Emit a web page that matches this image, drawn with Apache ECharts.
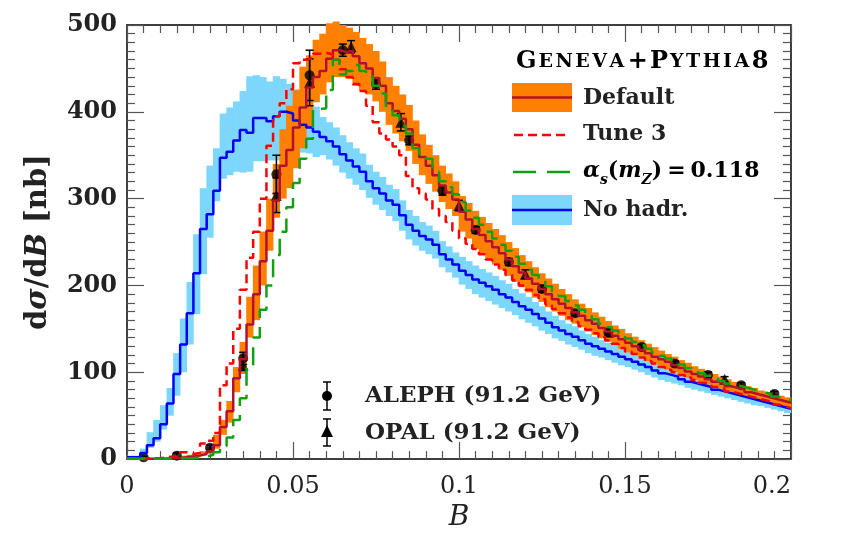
<!DOCTYPE html>
<html>
<head>
<meta charset="utf-8">
<script src="https://cdn.jsdelivr.net/npm/echarts@6/dist/echarts.min.js"></script>
<style>
html, body { margin: 0; padding: 0; background: #fff; }
#chart { width: 842px; height: 537px; }
</style>
</head>
<body>
<div id="chart"></div>
<script>
// histogram bins of width 0.002 from B = 0 to 0.2
var binWidth = 0.002;

// No hadr. (blue line + light blue band)
var noHadr = [2, 2, 7, 16, 24, 40, 64, 98, 132, 168,
    214, 265, 282, 309, 347, 354, 367, 379, 376, 393,
    393, 389, 395, 400, 398, 390, 385, 382, 377, 371,
    366, 360, 351, 344, 337, 331, 320, 312, 306, 298,
    293, 281, 270, 263, 257, 253, 247, 236, 230, 224,
    217, 212, 207, 203, 199, 195, 190, 186, 181, 176,
    172, 167, 162, 157, 152, 148, 144, 141, 137, 133,
    130, 127, 124, 121, 118, 115, 112, 109, 106, 102,
    99, 97, 95, 92, 89, 87, 85, 83, 80, 78,
    76, 74, 72, 70, 68, 66, 64, 62, 60, 58];
var noHadrLo = [0, 0, 4, 13, 20, 34, 50, 73, 100, 132,
    167, 213, 255, 297, 323, 327, 331, 330, 331, 343,
    343, 344, 344, 350, 355, 356, 353, 352, 348, 350,
    345, 338, 330, 323, 316, 310, 301, 293, 287, 280,
    274, 263, 253, 246, 240, 236, 231, 221, 215, 209,
    201, 196, 190, 186, 182, 178, 174, 170, 166, 161,
    157, 153, 148, 144, 139, 136, 132, 129, 126, 122,
    119, 117, 114, 111, 108, 106, 103, 100, 97, 94,
    91, 89, 87, 85, 82, 80, 78, 76, 74, 72,
    70, 68, 66, 64, 62, 61, 59, 57, 55, 53];
var noHadrHi = [4, 4, 12, 31, 45, 62, 82, 122, 162, 204,
    259, 312, 338, 358, 398, 405, 412, 424, 441, 442,
    440, 435, 441, 438, 432, 426, 420, 414, 406, 394,
    388, 382, 373, 365, 358, 352, 339, 331, 325, 316,
    311, 298, 287, 280, 273, 269, 263, 251, 245, 238,
    233, 228, 223, 219, 215, 211, 206, 202, 196, 191,
    187, 181, 176, 170, 165, 160, 156, 153, 148, 144,
    141, 137, 134, 131, 128, 124, 121, 118, 115, 110,
    107, 105, 103, 99, 96, 94, 92, 90, 86, 84,
    82, 80, 78, 76, 73, 71, 69, 67, 65, 63];

// Default (dark red line + orange band)
var defaultVals = [0.5, 0.5, 0.5, 0.5, 0.5, 0.5, 1, 1, 2, 3,
    4, 6, 9, 16, 37, 55, 93, 115, 155, 190,
    228, 263, 298, 338, 356, 382, 405, 428, 440, 447,
    461, 471, 469, 470, 464, 456, 450, 439, 430, 410,
    401, 392, 380, 362, 348, 338, 327, 315, 307, 299,
    285, 276, 265, 258, 251, 244, 237, 230, 222, 215,
    208, 202, 196, 190, 184, 179, 174, 169, 165, 160,
    156, 151, 147, 142, 138, 134, 130, 126, 122, 118,
    115, 112, 108, 105, 101, 98, 95, 92, 89, 87,
    84, 82, 80, 77, 75, 73, 71, 69, 67, 65];
var defaultLo = [0, 0, 0, 0, 0, 0, 0.5, 0.5, 1, 2,
    2, 4, 6, 12, 28, 42, 77, 98, 140, 160,
    200, 240, 278, 300, 312, 335, 358, 382, 411, 420,
    434, 440, 440, 438, 430, 424, 420, 412, 400, 385,
    375, 366, 355, 340, 327, 317, 308, 296, 288, 280,
    262, 254, 242, 236, 230, 224, 218, 211, 204, 198,
    192, 186, 181, 175, 170, 165, 160, 156, 152, 147,
    143, 139, 135, 131, 127, 123, 120, 116, 113, 109,
    106, 103, 100, 97, 94, 91, 88, 86, 83, 81,
    78, 76, 74, 72, 70, 68, 66, 64, 62, 60];
var defaultHi = [1, 1, 1, 1, 1, 1.5, 2, 2.5, 4, 5,
    6, 9, 14, 28, 45, 67, 106, 135, 187, 223,
    262, 300, 340, 380, 407, 425, 452, 465, 483, 490,
    502, 504, 500, 497, 492, 485, 478, 470, 458, 440,
    430, 420, 408, 390, 374, 362, 350, 338, 329, 320,
    303, 295, 286, 279, 272, 265, 258, 250, 243, 235,
    228, 221, 214, 208, 202, 196, 190, 184, 179, 174,
    169, 164, 159, 154, 150, 145, 141, 137, 133, 129,
    125, 121, 118, 114, 111, 107, 104, 101, 98, 95,
    92, 89, 87, 84, 82, 79, 77, 75, 73, 71];

// Tune 3 (red dashed)
var tune3 = [1, 1, 1, 1, 1, 2, 3, 3, 8, 6,
    7, 18, 21, 30, 85, 110, 150, 195, 232, 262,
    300, 361, 395, 410, 426, 456, 460, 462, 467, 468,
    466, 460, 449, 440, 432, 424, 407, 388, 375, 368,
    360, 350, 326, 312, 306, 299, 288, 280, 273, 263,
    254, 248, 242, 236, 230, 224, 218, 212, 206, 200,
    195, 189, 184, 178, 173, 168, 163, 158, 153, 149,
    145, 141, 137, 133, 128, 124, 121, 117, 113, 110,
    106, 103, 100, 97, 94, 91, 88, 86, 83, 81,
    78, 76, 74, 72, 70, 68, 66, 63, 61, 59];

// alpha_s(m_Z) = 0.118 (green long dashes)
var alphaS = [0.5, 0.5, 0.5, 0.5, 0.5, 0.5, 0.5, 0.5, 1, 1,
    2, 3, 5, 8, 15, 25, 45, 70, 105, 140,
    172, 200, 235, 262, 290, 318, 346, 369, 403, 404,
    425, 460, 443, 447, 454, 447, 443, 430, 421, 405,
    396, 384, 375, 358, 350, 346, 331, 320, 313, 305,
    296, 286, 278, 270, 262, 254, 247, 240, 233, 225,
    218, 212, 206, 199, 193, 188, 182, 177, 172, 166,
    161, 156, 152, 148, 143, 139, 135, 131, 127, 123,
    119, 116, 112, 109, 105, 102, 99, 96, 93, 90,
    87, 85, 83, 81, 79, 77, 75, 72, 70, 68];

// ALEPH (91.2 GeV)
var alephB = [0.005, 0.015, 0.025, 0.035, 0.045, 0.055, 0.065, 0.075, 0.085, 0.095,
    0.105, 0.115, 0.125, 0.135, 0.145, 0.155, 0.165, 0.175, 0.185, 0.195];
var alephVal = [2, 4, 13, 116, 328, 442, 471, 432, 367, 309,
    264, 227, 196, 168, 146, 129, 110, 97, 85, 75];
var alephErr = [1, 3, 3, 7, 22, 29, 7, 6, 5, 5,
    4, 4, 4, 3, 3, 3, 3, 3, 3, 3];

// OPAL (91.2 GeV)
var opalB = [0.035, 0.045, 0.055, 0.0675, 0.0825, 0.1, 0.12, 0.145, 0.18];
var opalVal = [108, 304, 434, 475, 388, 292, 213, 146, 92];
var opalErr = [6, 20, 27, 7, 10, 6, 5, 4, 3];

var xTickLabels = ['0', '0.05', '0.1', '0.15', '0.2'];

function stepData(vals) {
    var d = vals.map(function (v, i) { return [i * binWidth, v]; });
    d.push([vals.length * binWidth, vals[vals.length - 1]]);
    return d;
}
function bandData(lo, hi) {
    return lo.map(function (l, i) { return [i * binWidth, (i + 1) * binWidth, l, hi[i]]; });
}
function bandRenderer(color) {
    return function (params, api) {
        var p0 = api.coord([api.value(0), api.value(3)]);
        var p1 = api.coord([api.value(1), api.value(2)]);
        return {
            type: 'rect',
            shape: { x: p0[0] - 0.3, y: p0[1], width: p1[0] - p0[0] + 0.6, height: p1[1] - p0[1] },
            style: { fill: color }
        };
    };
}
function errData(b, v, e) {
    return b.map(function (x, i) { return [x, v[i] - e[i], v[i] + e[i]]; });
}
function renderErr(params, api) {
    var x = api.value(0);
    var top = api.coord([x, api.value(2)]);
    var bot = api.coord([x, api.value(1)]);
    var c = 4;
    var st = { stroke: '#000', lineWidth: 1.5 };
    return {
        type: 'group',
        children: [
            { type: 'line', shape: { x1: top[0], y1: top[1], x2: bot[0], y2: bot[1] }, style: st },
            { type: 'line', shape: { x1: top[0] - c, y1: top[1], x2: top[0] + c, y2: top[1] }, style: st },
            { type: 'line', shape: { x1: bot[0] - c, y1: bot[1], x2: bot[0] + c, y2: bot[1] }, style: st }
        ]
    };
}
function pairs(b, v) {
    return b.map(function (x, i) { return [x, v[i]]; });
}

var serif = '"DejaVu Serif", "Liberation Serif", serif';
var tickColor = '#555';

function xAx(pos, labels) {
    return {
        type: 'value', min: 0, max: 0.2, interval: 0.05, position: pos,
        axisLine: { show: true, onZero: false, lineStyle: { color: '#000', width: 1.5 } },
        axisTick: { show: true, inside: true, length: 17, lineStyle: { color: tickColor, width: 1.2 } },
        minorTick: { show: true, splitNumber: 10, length: 8, lineStyle: { color: tickColor, width: 1.2 } },
        splitLine: { show: false },
        axisLabel: labels ? {
            show: true, margin: 16, color: '#222', fontFamily: serif, fontSize: 24,
            alignMaxLabel: 'right',
            formatter: function (v) { return xTickLabels[Math.round(v / 0.05)]; }
        } : { show: false },
        name: labels ? 'B' : '',
        nameLocation: 'middle', nameGap: 40,
        nameTextStyle: { fontFamily: serif, fontStyle: 'italic', fontSize: 28, color: '#222' }
    };
}
function yAx(pos, labels) {
    return {
        type: 'value', min: 0, max: 500, interval: 100, position: pos,
        axisLine: { show: true, onZero: false, lineStyle: { color: '#000', width: 1.5 } },
        axisTick: { show: true, inside: true, length: 17, lineStyle: { color: tickColor, width: 1.2 } },
        minorTick: { show: true, splitNumber: 10, length: 8, lineStyle: { color: tickColor, width: 1.2 } },
        splitLine: { show: false },
        axisLabel: labels ? { show: true, margin: 10, color: '#222', fontFamily: serif, fontWeight: 'bold', fontSize: 24 } : { show: false },
        name: labels ? '{n|d}{i|σ}{n|/d}{i|B}{n| [nb]}' : '',
        nameLocation: 'middle', nameGap: 74, nameRotate: 90,
        nameTextStyle: {
            color: '#222',
            rich: {
                n: { fontFamily: serif, fontWeight: 'bold', fontSize: 29, color: '#222' },
                i: { fontFamily: serif, fontWeight: 'bold', fontStyle: 'italic', fontSize: 29, color: '#222' }
            }
        }
    };
}

var legendFont = 'bold 22px ' + serif;
var dataLegendFont = 'bold 23px ' + serif;
var smallCaps = { fontFamily: serif, fontWeight: 'bold', fontSize: 19, padding: [0, 2.5, 0, 0], color: '#222' };
var bigCaps = { fontFamily: serif, fontWeight: 'bold', fontSize: 24, padding: [0, 2, 0, 0], color: '#222' };
var mathN = { fontFamily: serif, fontWeight: 'bold', fontSize: 22, color: '#222' };

var chart = echarts.init(document.getElementById('chart'));
var option = {
    animation: false,
    backgroundColor: '#fff',
    grid: { left: 127, right: 51, top: 25, bottom: 73 },
    xAxis: [xAx('bottom', true), xAx('top', false)],
    yAxis: [yAx('left', true), yAx('right', false)],
    series: [
        {
            name: 'No hadr. band', type: 'custom', renderItem: bandRenderer('#7dd6fb'),
            data: bandData(noHadrLo, noHadrHi), encode: { x: [0, 1], y: [2, 3] }, silent: true
        },
        {
            name: 'No hadr.', type: 'line', step: 'end', showSymbol: false, data: stepData(noHadr),
            lineStyle: { color: '#0000f5', width: 2.5 }, silent: true
        },
        {
            name: 'Default band', type: 'custom', renderItem: bandRenderer('#ff8000'), clip: false,
            data: bandData(defaultLo, defaultHi), encode: { x: [0, 1], y: [2, 3] }, silent: true
        },
        {
            name: 'Default', type: 'line', step: 'end', showSymbol: false, data: stepData(defaultVals),
            lineStyle: { color: '#b3112e', width: 2.5 }, silent: true
        },
        {
            name: 'Tune 3', type: 'line', step: 'end', showSymbol: false, data: stepData(tune3),
            lineStyle: { color: '#ff0000', width: 2.5, type: [9, 5] }, silent: true
        },
        {
            name: 'alphaS', type: 'line', step: 'end', showSymbol: false, data: stepData(alphaS),
            lineStyle: { color: '#12a012', width: 2.5, type: [18, 9] }, silent: true
        },
        {
            name: 'ALEPH err', type: 'custom', renderItem: renderErr,
            data: errData(alephB, alephVal, alephErr), encode: { x: 0, y: [1, 2] }, silent: true
        },
        {
            name: 'OPAL err', type: 'custom', renderItem: renderErr,
            data: errData(opalB, opalVal, opalErr), encode: { x: 0, y: [1, 2] }, silent: true
        },
        {
            name: 'ALEPH', type: 'scatter', symbol: 'circle', symbolSize: 10,
            itemStyle: { color: '#000' }, data: pairs(alephB, alephVal), silent: true
        },
        {
            name: 'OPAL', type: 'scatter', symbol: 'triangle', symbolSize: 11,
            itemStyle: { color: '#000' }, data: pairs(opalB, opalVal), silent: true
        }
    ],
    graphic: [
        {
            type: 'text', left: 516, top: 50, z: 100,
            style: {
                text: '{b|G}{s|E}{s|N}{s|E}{s|V}{s|A}{p|+}{b|P}{s|Y}{s|T}{s|H}{s|I}{s|A}{b|8}',
                rich: {
                    b: bigCaps, s: smallCaps,
                    p: { fontFamily: serif, fontWeight: 'bold', fontSize: 24, padding: [0, 2, 0, 1], color: '#222' }
                }
            }
        },
        { type: 'rect', z: 100, shape: { x: 512, y: 83, width: 60, height: 29 }, style: { fill: '#ff8000' } },
        { type: 'line', z: 100, shape: { x1: 512, y1: 97.5, x2: 572, y2: 97.5 }, style: { stroke: '#b3112e', lineWidth: 2.5 } },
        { type: 'text', z: 100, x: 583, y: 98, style: { text: 'Default', font: legendFont, fill: '#222', verticalAlign: 'middle', textVerticalAlign: 'middle' } },
        { type: 'line', z: 100, shape: { x1: 514, y1: 135, x2: 570, y2: 135 }, style: { stroke: '#ff0000', lineWidth: 2.5, lineDash: [9, 5] } },
        { type: 'text', z: 100, x: 583, y: 134, style: { text: 'Tune 3', font: legendFont, fill: '#222', verticalAlign: 'middle', textVerticalAlign: 'middle' } },
        { type: 'line', z: 100, shape: { x1: 513, y1: 172, x2: 572, y2: 172 }, style: { stroke: '#12a012', lineWidth: 2.5, lineDash: [23, 11] } },
        {
            type: 'text', z: 100, x: 583, y: 171,
            style: {
                text: '{i|α}{sb|s}{n|(}{i|m}{sb|Z}{n|)}{e|=}{n|0.118}',
                verticalAlign: 'middle', textVerticalAlign: 'middle',
                rich: {
                    n: mathN,
                    e: { fontFamily: serif, fontWeight: 'bold', fontSize: 22, color: '#222', padding: [0, 5, 0, 5] },
                    i: { fontFamily: serif, fontWeight: 'bold', fontStyle: 'italic', fontSize: 22, color: '#222' },
                    sb: { fontFamily: serif, fontWeight: 'bold', fontStyle: 'italic', fontSize: 14, color: '#222', verticalAlign: 'bottom', lineHeight: 32 }
                }
            }
        },
        { type: 'rect', z: 100, shape: { x: 512, y: 195, width: 60, height: 30 }, style: { fill: '#7dd6fb' } },
        { type: 'line', z: 100, shape: { x1: 512, y1: 210, x2: 572, y2: 210 }, style: { stroke: '#0000f5', lineWidth: 2.5 } },
        { type: 'text', z: 100, x: 583, y: 210, style: { text: 'No hadr.', font: legendFont, fill: '#222', verticalAlign: 'middle', textVerticalAlign: 'middle' } },
        // data legend
        { type: 'line', z: 100, shape: { x1: 327, y1: 382, x2: 327, y2: 410 }, style: { stroke: '#000', lineWidth: 1.5 } },
        { type: 'line', z: 100, shape: { x1: 323, y1: 382, x2: 331, y2: 382 }, style: { stroke: '#000', lineWidth: 1.5 } },
        { type: 'line', z: 100, shape: { x1: 323, y1: 410, x2: 331, y2: 410 }, style: { stroke: '#000', lineWidth: 1.5 } },
        { type: 'circle', z: 100, shape: { cx: 327, cy: 396, r: 5 }, style: { fill: '#000' } },
        { type: 'text', z: 100, x: 365, y: 396, style: { text: 'ALEPH (91.2 GeV)', font: dataLegendFont, fill: '#222', verticalAlign: 'middle', textVerticalAlign: 'middle' } },
        { type: 'line', z: 100, shape: { x1: 327, y1: 419, x2: 327, y2: 446 }, style: { stroke: '#000', lineWidth: 1.5 } },
        { type: 'line', z: 100, shape: { x1: 323, y1: 419, x2: 331, y2: 419 }, style: { stroke: '#000', lineWidth: 1.5 } },
        { type: 'line', z: 100, shape: { x1: 323, y1: 446, x2: 331, y2: 446 }, style: { stroke: '#000', lineWidth: 1.5 } },
        { type: 'polygon', z: 100, shape: { points: [[327, 425], [333, 437], [321, 437]] }, style: { fill: '#000' } },
        { type: 'text', z: 100, x: 365, y: 433, style: { text: 'OPAL (91.2 GeV)', font: dataLegendFont, fill: '#222', verticalAlign: 'middle', textVerticalAlign: 'middle' } }
    ]
};
chart.setOption(option);
</script>
</body>
</html>
